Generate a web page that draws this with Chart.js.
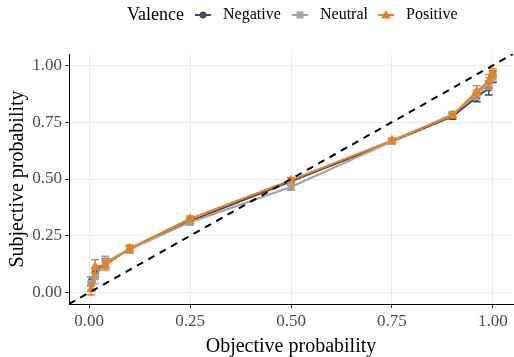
<!DOCTYPE html>
<html>
<head>
<meta charset="utf-8">
<script src="https://cdn.jsdelivr.net/npm/chart.js@4/dist/chart.umd.min.js"></script>
<style>
  body { margin: 0; background: #fff; }
  #wrap { width: 514px; height: 357px; position: relative; }
</style>
</head>
<body>
<div id="wrap"><canvas id="myChart"></canvas></div>
<script>
// objective probabilities (x) and subjective estimates per valence
const objective = [0.005, 0.015, 0.04, 0.1, 0.25, 0.5, 0.75, 0.9, 0.96, 0.99, 1.0];
const negative  = [0.05, 0.09, 0.13, 0.19, 0.315, 0.49, 0.665, 0.775, 0.86, 0.90, 0.95];
const neutral   = [0.04, 0.07, 0.135, 0.19, 0.31, 0.465, 0.665, 0.785, 0.87, 0.92, 0.95];
const positive  = [0.015, 0.115, 0.12, 0.195, 0.325, 0.495, 0.67, 0.78, 0.885, 0.93, 0.965];
const negErr = [0.02, 0.02, 0.02, 0.015, 0.012, 0.015, 0.01, 0.012, 0.02, 0.03, 0.025];
const neuErr = [0.03, 0.03, 0.025, 0.015, 0.012, 0.015, 0.01, 0.012, 0.02, 0.025, 0.02];
const posErr = [0.025, 0.03, 0.02, 0.015, 0.012, 0.012, 0.01, 0.012, 0.025, 0.03, 0.02];
const tickValues = [0, 0.25, 0.5, 0.75, 1];
const diagonal = [-0.05, 1.05];

const legendTitle = 'Valence';
const seriesNames = ['Negative', 'Neutral', 'Positive'];
const colors = ['#3d4b66', '#a3a3a3', '#e8811f'];
const styles = ['circle', 'rect', 'triangle'];

Chart.defaults.font.family = '"Liberation Serif", "Times New Roman", serif';

function points(ys) {
  return objective.map((x, i) => ({ x: x, y: ys[i] }));
}

function makeSeries(i, ys, err, order) {
  return {
    label: seriesNames[i],
    data: points(ys),
    err: err,
    borderColor: colors[i],
    backgroundColor: colors[i],
    borderWidth: 2,
    pointStyle: styles[i],
    pointRadius: styles[i] == 'triangle' ? 5.5 : (styles[i] == 'rect' ? 5 : 3.5),
    pointBorderWidth: 0,
    tension: 0,
    order: order
  };
}

// error bars, drawn with each dataset's own scales
const errorBars = {
  id: 'errorBars',
  afterDatasetDraw(chart, args) {
    let ds = chart.data.datasets[args.index];
    if (!ds.err) return;
    let ctx = chart.ctx;
    let xs = chart.scales.x, ys = chart.scales.y;
    ctx.save();
    ctx.strokeStyle = ds.borderColor;
    ctx.lineWidth = 1.5;
    ds.data.forEach(function(p, i) {
      let px = xs.getPixelForValue(p.x);
      let top = ys.getPixelForValue(p.y + ds.err[i]);
      let bot = ys.getPixelForValue(p.y - ds.err[i]);
      ctx.beginPath();
      ctx.moveTo(px, top); ctx.lineTo(px, bot);
      ctx.moveTo(px - 4, top); ctx.lineTo(px + 4, top);
      ctx.moveTo(px - 4, bot); ctx.lineTo(px + 4, bot);
      ctx.stroke();
    });
    ctx.restore();
  }
};

function drawMarker(ctx, style, x, y, color) {
  ctx.fillStyle = color;
  ctx.beginPath();
  if (style == 'circle') {
    ctx.arc(x, y, 3.5, 0, Math.PI * 2);
  } else if (style == 'rect') {
    ctx.rect(x - 3.5, y - 3.5, 7, 7);
  } else {
    ctx.moveTo(x, y - 5);
    ctx.lineTo(x + 5, y + 3.5);
    ctx.lineTo(x - 5, y + 3.5);
    ctx.closePath();
  }
  ctx.fill();
}

// ggplot style legend on top
const topLegend = {
  id: 'topLegend',
  afterDraw(chart) {
    let ctx = chart.ctx;
    ctx.save();
    ctx.textBaseline = 'middle';
    ctx.fillStyle = '#000';
    ctx.font = '18px "Liberation Serif"';
    ctx.fillText(legendTitle, 127, 15);
    let keyX = [203, 300, 386];
    ctx.font = '16px "Liberation Serif"';
    seriesNames.forEach(function(name, i) {
      let cx = keyX[i];
      ctx.strokeStyle = colors[i];
      ctx.lineWidth = 2;
      ctx.beginPath();
      ctx.moveTo(cx - 8, 15); ctx.lineTo(cx + 8, 15);
      ctx.stroke();
      drawMarker(ctx, styles[i], cx, 15, colors[i]);
      ctx.fillStyle = '#000';
      ctx.fillText(name, cx + 20, 15);
    });
    ctx.restore();
  }
};

let ctx = document.getElementById('myChart');
let myChart = new Chart(ctx, {
  type: 'line',
  data: {
    datasets: [
      makeSeries(0, negative, negErr, 3),
      makeSeries(1, neutral, neuErr, 2),
      makeSeries(2, positive, posErr, 1),
      {
        label: 'diag',
        data: diagonal.map(v => ({ x: v, y: v })),
        borderColor: '#000',
        borderWidth: 2,
        borderDash: [7, 6],
        pointRadius: 0,
        order: 0
      }
    ]
  },
  options: {
    responsive: true,
    maintainAspectRatio: false,
    animation: false,
    layout: { autoPadding: false, padding: { top: 54, right: 1, left: 0, bottom: 0 } },
    plugins: {
      legend: { display: false },
      tooltip: { enabled: false }
    },
    scales: {
      x: {
        type: 'linear',
        min: -0.05,
        max: 1.05,
        afterBuildTicks(scale) { scale.ticks = tickValues.map(v => ({ value: v })); },
        afterFit(scale) {
          scale.height = 53;
          scale.paddingLeft = 0;
          scale.paddingRight = 0;
        },
        grid: { color: '#ebebeb', tickColor: '#333', tickLength: 4 },
        border: { color: '#000', width: 1 },
        ticks: {
          color: '#4d4d4d',
          font: { size: 17 },
          padding: 3,
          maxRotation: 0,
          callback: v => v.toFixed(2)
        },
        title: {
          display: true,
          text: 'Objective probability',
          color: '#000',
          font: { size: 20, lineHeight: 1 },
          padding: { top: 0, bottom: 0 }
        }
      },
      y: {
        min: -0.05,
        max: 1.05,
        afterBuildTicks(scale) { scale.ticks = tickValues.map(v => ({ value: v })); },
        afterFit(scale) { scale.width = 69; },
        grid: { color: '#ebebeb', tickColor: '#333', tickLength: 4 },
        border: { color: '#000', width: 1 },
        ticks: {
          color: '#4d4d4d',
          font: { size: 17 },
          padding: 3,
          callback: v => v.toFixed(2)
        },
        title: {
          display: true,
          text: 'Subjective probability',
          color: '#000',
          font: { size: 20 },
          padding: { top: 6, bottom: 4 }
        }
      }
    }
  },
  plugins: [errorBars, topLegend]
});
</script>
</body>
</html>
